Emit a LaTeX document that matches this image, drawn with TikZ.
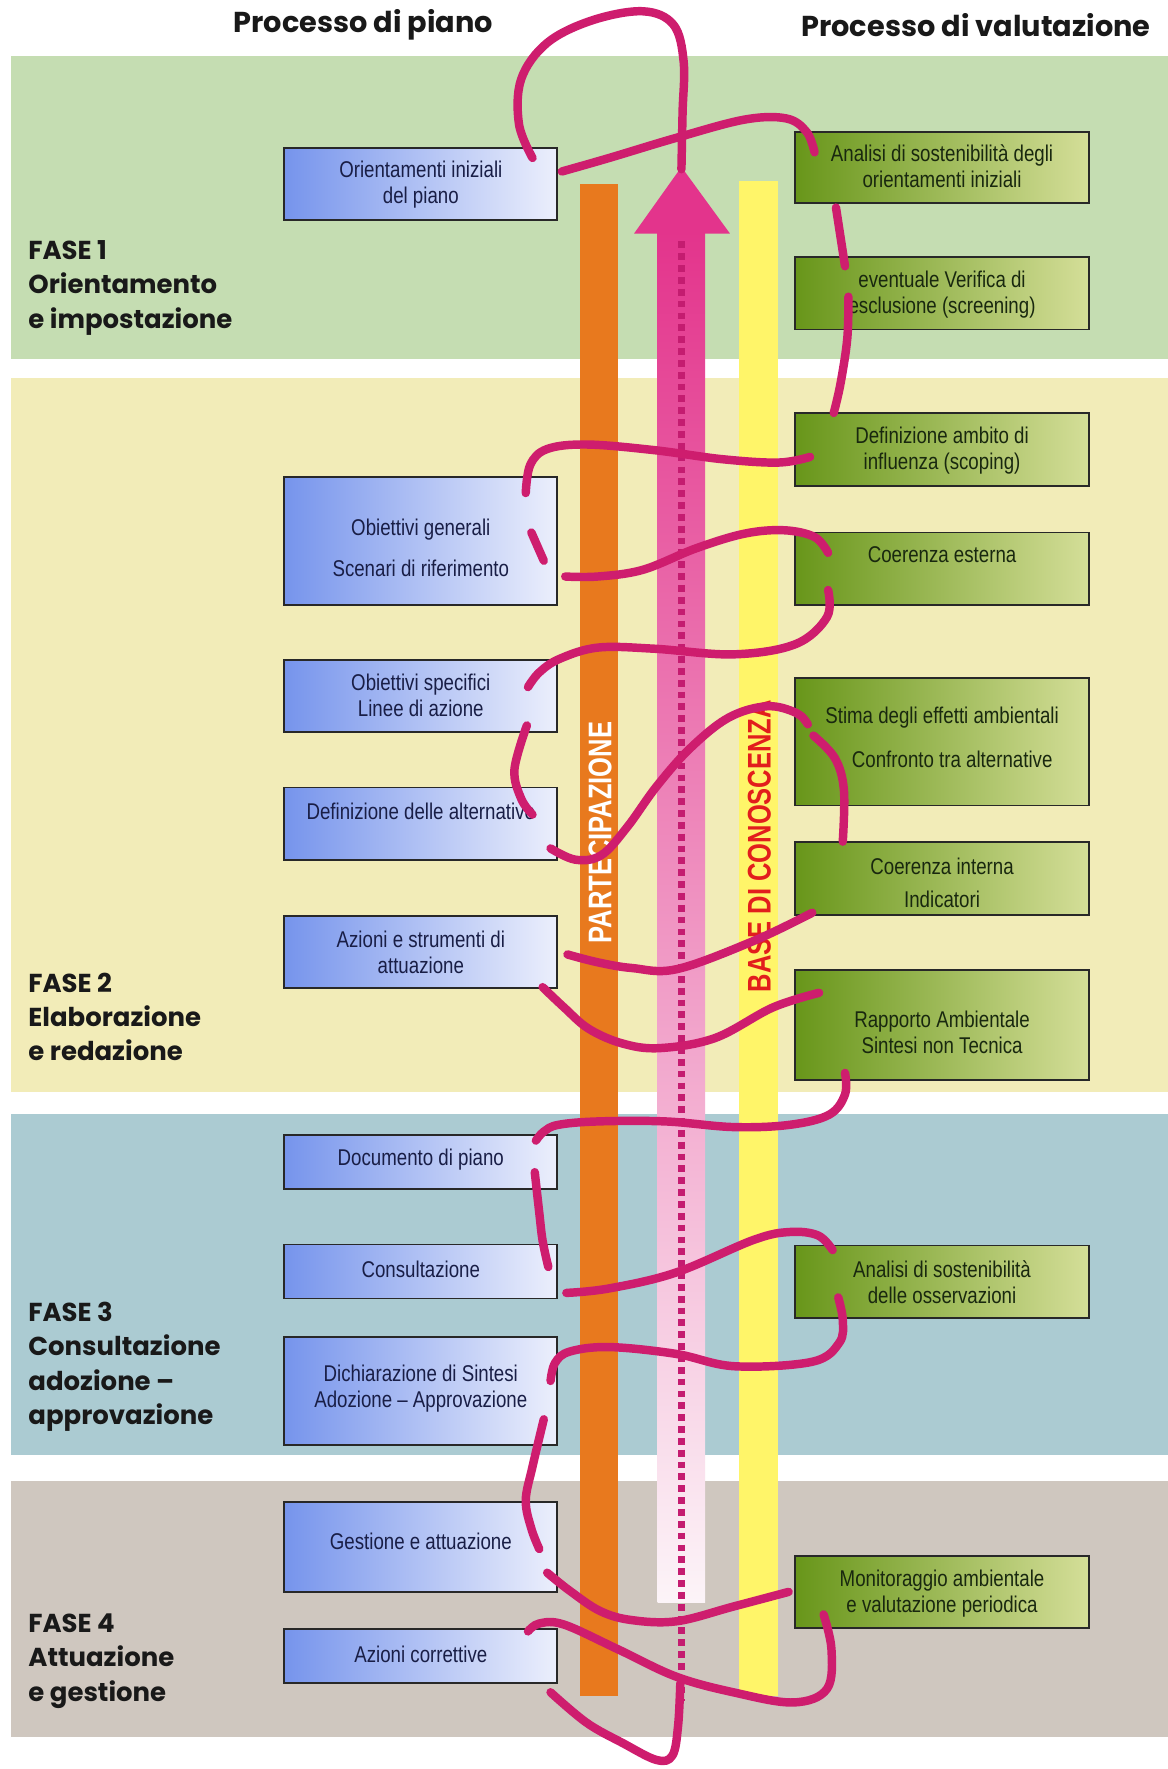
\documentclass[tikz,border=0pt]{standalone}
\usepackage{fontspec}
\newfontfamily\popfont{Poppins}
\newfontfamily\narrowfont{Liberation Sans}[FakeStretch=0.82]
\newfontfamily\barfont{Liberation Sans}[FakeStretch=0.78]
\definecolor{bandgreen}{RGB}{197,221,178}
\definecolor{bandyellow}{RGB}{242,236,184}
\definecolor{bandblue}{RGB}{171,203,210}
\definecolor{bandgray}{RGB}{207,199,191}
\definecolor{barorange}{RGB}{232,121,30}
\definecolor{baryellow}{RGB}{255,245,105}
\definecolor{arrowpink}{RGB}{227,52,140}
\definecolor{shaftmid}{RGB}{238,140,188}
\definecolor{shaftlow}{RGB}{252,244,248}
\definecolor{dotpink}{RGB}{196,28,112}
\definecolor{thread}{RGB}{206,29,110}
\definecolor{blueL}{RGB}{118,148,236}
\definecolor{blueR}{RGB}{236,239,252}
\definecolor{greenL}{RGB}{104,150,26}
\definecolor{greenR}{RGB}{212,222,152}
\definecolor{bluetext}{RGB}{25,30,70}
\definecolor{greentext}{RGB}{25,40,15}
\definecolor{boxline}{RGB}{40,40,40}
\definecolor{headtext}{RGB}{25,25,25}
\definecolor{redtext}{RGB}{226,30,28}
\begin{document}
\begin{tikzpicture}[x=1pt,y=-1pt,
  blbox/.style={draw=boxline, line width=1.6pt, left color=blueL, right color=blueR, minimum width=242pt, anchor=north west, inner sep=0pt, outer sep=0pt},
  grbox/.style={draw=boxline, line width=1.6pt, left color=greenL, right color=greenR, minimum width=260pt, anchor=north west, inner sep=0pt, outer sep=0pt},
  bltext/.style={text=bluetext, font=\narrowfont\fontsize{20.2}{23}\selectfont, align=center, inner sep=0pt},
  grtext/.style={text=greentext, font=\narrowfont\fontsize{20.2}{23}\selectfont, align=center, inner sep=0pt},
  phase/.style={text=headtext, font=\popfont\bfseries\fontsize{23}{30.5}\selectfont, align=left, anchor=north west, inner sep=0pt},
  header/.style={text=headtext, font=\popfont\bfseries\fontsize{25.5}{28}\selectfont, inner sep=0pt},
  barlabel/.style={rotate=90, font=\barfont\bfseries\fontsize{29}{29}\selectfont, inner sep=0pt},
  thr/.style={draw=thread, line width=7.5pt, line cap=round, line join=round}
]
\useasboundingbox (0,0) rectangle (1035,1568);
\fill[white] (0,0) rectangle (1035,1568);

% bands
\fill[bandgreen] (10,50) rectangle (1035,318);
\fill[bandyellow] (10,335) rectangle (1035,968);
\fill[bandblue] (10,987) rectangle (1035,1290);
\fill[bandgray] (10,1313) rectangle (1035,1540);

% headers
\node[header] (h1) at (322,22) {Processo di piano};
\node[header] (h2) at (865,22) {Processo di valutazione};

% phase labels
\node[phase] (f1) at (25,213) {FASE 1\\Orientamento\\e impostazione};
\node[phase] (f2) at (25,862) {FASE 2\\Elaborazione\\e redazione};
\node[phase] (f3) at (25,1154) {FASE 3\\Consultazione\\adozione –\\approvazione};
\node[phase] (f4) at (25,1430) {FASE 4\\Attuazione\\e gestione};

% vertical bars
\fill[barorange] (514,163) rectangle (548,1503);
\fill[baryellow] (655,160) rectangle (690,1503);
\shade[top color=arrowpink, middle color=shaftmid, bottom color=shaftlow] (583,205) rectangle (625,1420);
\fill[arrowpink] (604,148) -- (647,207) -- (562,207) -- cycle;
\coordinate (dtop) at (604,214);
\coordinate (dbot) at (604,1508);
\draw[draw=dotpink, line width=6pt, dash pattern=on 6pt off 4.5pt] (dtop) -- (dbot);

\node[barlabel, text=white] (part) at (532,738) {PARTECIPAZIONE};
\node[barlabel, text=redtext] (base) at (673,750) {BASE DI CONOSCENZA};

% plan boxes
\node[blbox, minimum height=64pt] (p1) at (252,131) {};
\node[blbox, minimum height=113pt] (p2) at (252,423) {};
\node[blbox, minimum height=64pt] (p3) at (252,585) {};
\node[blbox, minimum height=64pt] (p4) at (252,698) {};
\node[blbox, minimum height=64pt] (p5) at (252,812) {};
\node[blbox, minimum height=48pt] (p6) at (252,1006) {};
\node[blbox, minimum height=48pt] (p7) at (252,1103) {};
\node[blbox, minimum height=96pt] (p8) at (252,1185) {};
\node[blbox, minimum height=80pt] (p9) at (252,1331) {};
\node[blbox, minimum height=48pt] (p10) at (252,1444) {};

\node[bltext] (tp1) at (373,163.5) {Orientamenti iniziali\\del piano};
\node[bltext, font=\narrowfont\fontsize{20.2}{37}\selectfont] (tp2) at (373,485.5) {Obiettivi generali\\Scenari di riferimento};
\node[bltext] (tp3) at (373,616.5) {Obiettivi specifici\\Linee di azione};
\node[bltext] (tp4) at (373,719) {Definizione delle alternative};
\node[bltext] (tp5) at (373,844) {Azioni e strumenti di\\attuazione};
\node[bltext] (tp6) at (373,1028) {Documento di piano};
\node[bltext] (tp7) at (373,1125) {Consultazione};
\node[bltext] (tp8) at (373,1231) {Dichiarazione di Sintesi\\Adozione – Approvazione};
\node[bltext] (tp9) at (373,1366) {Gestione e attuazione};
\node[bltext] (tp10) at (373,1466) {Azioni correttive};

% evaluation boxes
\node[grbox, minimum height=63pt] (v1) at (705,117) {};
\node[grbox, minimum height=64pt] (v2) at (705,228) {};
\node[grbox, minimum height=65pt] (v3) at (705,366) {};
\node[grbox, minimum height=64pt] (v4) at (705,472) {};
\node[grbox, minimum height=113pt] (v5) at (705,601) {};
\node[grbox, minimum height=65pt] (v6) at (705,746) {};
\node[grbox, minimum height=97pt] (v7) at (705,860) {};
\node[grbox, minimum height=64pt] (v8) at (705,1104) {};
\node[grbox, minimum height=64pt] (v9) at (705,1379) {};

\node[grtext] (tv1) at (835,147.5) {Analisi di sostenibilità degli\\orientamenti iniziali};
\node[grtext] (tv2) at (835,261) {eventuale Verifica di\\esclusione (screening)};
\node[grtext] (tv3) at (835,399.5) {Definizione ambito di\\influenza (scoping)};
\node[grtext] (tv4) at (835,492) {Coerenza esterna};
\node[grtext] (tv5a) at (835,636) {Stima degli effetti ambientali};
\node[grtext] (tv5b) at (844,673) {Confronto tra alternative};
\node[grtext, font=\narrowfont\fontsize{20.2}{29}\selectfont] (tv6) at (835,782.5) {Coerenza interna\\Indicatori};
\node[grtext] (tv7) at (835,915) {Rapporto Ambientale\\Sintesi non Tecnica};
\node[grtext] (tv8) at (835,1136.5) {Analisi di sostenibilità\\delle osservazioni};
\node[grtext] (tv9) at (835,1412.5) {Monitoraggio ambientale\\e valutazione periodica};

% the weaving thread
\draw[thr] plot[smooth, tension=0.6] coordinates {(472,140) (460,110) (462,70) (485,38) (525,18) (570,10) (597,22) (606,55) (605,100) (604,150)};
\draw[thr] plot[smooth, tension=0.6] coordinates {(498,152) (540,140) (600,122) (660,106) (697,105) (715,117) (722,135)};
\draw[thr] plot[smooth, tension=0.6] coordinates {(741,184) (745,210) (749,236)};
\draw[thr] plot[smooth, tension=0.6] coordinates {(752,263) (751,300) (745,340) (739,366)};
\draw[thr] plot[smooth, tension=0.6] coordinates {(718,405) (690,410) (640,407) (580,399) (520,394) (485,398) (470,412) (466,437)};
\draw[thr] (471,472) -- (482,497);
\draw[thr] plot[smooth, tension=0.6] coordinates {(501,511) (530,511) (570,505) (617,486) (660,473) (695,470) (722,476) (734,490)};
\draw[thr] plot[smooth, tension=0.6] coordinates {(734,523) (733,547) (705,571) (650,580) (580,575) (530,574) (496,584) (478,596) (468,609)};
\draw[thr] plot[smooth, tension=0.6] coordinates {(467,643) (456,682) (462,708) (472,722)};
\draw[thr] plot[smooth, tension=0.6] coordinates {(488,752) (510,762) (533,758) (556,733) (582,697) (612,663) (646,636) (680,626) (706,632) (716,642)};
\draw[thr] plot[smooth, tension=0.6] coordinates {(721,652) (740,672) (748,700) (747,746)};
\draw[thr] plot[smooth, tension=0.6] coordinates {(720,809) (668,834) (600,859) (560,858) (530,853) (503,846)};
\draw[thr] plot[smooth, tension=0.6] coordinates {(481,875) (500,893) (522,912) (552,925) (585,929) (634,920) (685,893) (726,880)};
\draw[thr] plot[smooth, tension=0.6] coordinates {(749,951) (749,970) (735,988) (700,997) (650,999) (590,994) (530,994) (495,997) (482,1003) (475,1011)};
\draw[thr] plot[smooth, tension=0.6] coordinates {(474,1039) (478,1075) (481,1100) (486,1123)};
\draw[thr] plot[smooth, tension=0.6] coordinates {(502,1146) (540,1142) (599,1128) (668,1099) (700,1092) (725,1095) (738,1108)};
\draw[thr] plot[smooth, tension=0.6] coordinates {(743,1150) (747,1170) (744,1190) (720,1207) (651,1211) (599,1200) (540,1194) (505,1198) (492,1208) (488,1224)};
\draw[thr] plot[smooth, tension=0.6] coordinates {(482,1258) (472,1300) (466,1330) (471,1355) (478,1373)};
\draw[thr] plot[smooth, tension=0.6] coordinates {(485,1394) (505,1410) (532,1428) (560,1436) (600,1437) (650,1424) (699,1411)};
\draw[thr] plot[smooth, tension=0.6] coordinates {(730,1431) (737,1462) (733,1497) (703,1509) (650,1500) (599,1486) (548,1462) (500,1440) (478,1439) (468,1446)};
\draw[thr] plot[smooth, tension=0.6] coordinates {(488,1500) (520,1527) (552,1545) (582,1560) (596,1556) (601,1530) (603,1492)};
\end{tikzpicture}
\end{document}
